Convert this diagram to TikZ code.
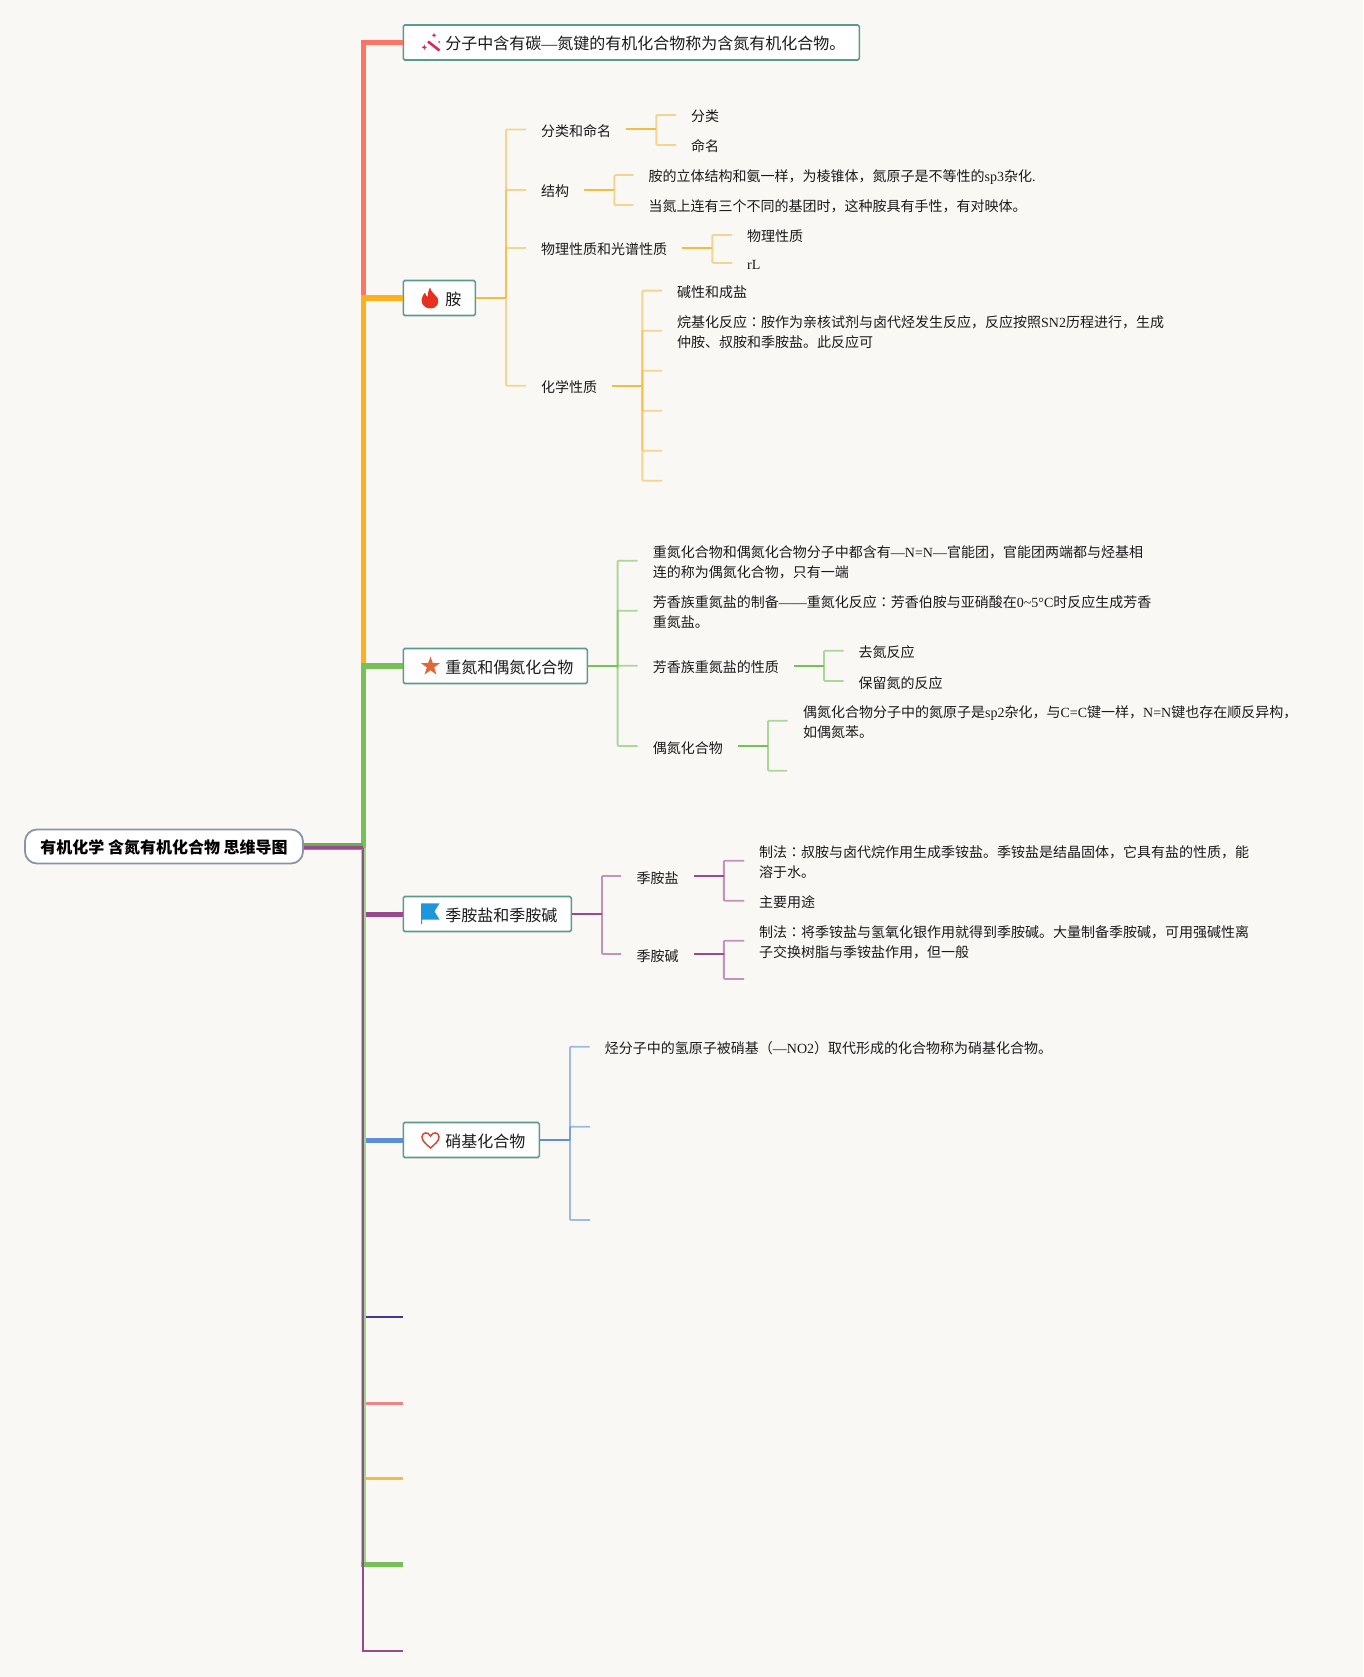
\documentclass[tikz,border=0pt]{standalone}
\usepackage{fontspec}
\setmainfont{Noto Sans CJK SC}
\newfontfamily\lat{Liberation Serif}
\newfontfamily\tcf{Noto Sans CJK TC}
\newcommand\tn[1]{{\lat #1}}
\newcommand\cln{{\tcf ：}}
\newcommand\fstl{\rule{0pt}{14.7pt}}
\definecolor{bgc}{HTML}{F9F8F5}
\definecolor{boxc}{HTML}{5B9A8F}
\definecolor{rootc}{HTML}{8B93AB}
\definecolor{redc}{HTML}{FF7464}
\definecolor{orac}{HTML}{FFB01F}
\definecolor{grec}{HTML}{76C05A}
\definecolor{purc}{HTML}{9A4A8A}
\definecolor{bluc}{HTML}{5C8FD6}
\definecolor{navc}{HTML}{3F3A8F}
\definecolor{salc}{HTML}{EC8585}
\definecolor{yelc}{HTML}{F2BD42}
\definecolor{lgre}{HTML}{A0D488}
\definecolor{mixc}{HTML}{86527F}
\definecolor{txtc}{HTML}{1A1A1A}
\definecolor{flamec}{HTML}{E8301E}
\definecolor{starc}{HTML}{E2683A}
\definecolor{flagc}{HTML}{1E96DC}
\definecolor{heartc}{HTML}{D4483A}
\definecolor{wandc}{HTML}{E0245E}
\tikzset{
  rootbox/.style={draw=rootc,line width=1.8pt,fill=white,rounded corners=12pt,minimum width=278pt,minimum height=34pt,inner sep=0pt,font=\fontsize{16}{20}\selectfont\bfseries,text=black,text height=15pt,text depth=0.8pt},
  mainbox/.style={draw=boxc,line width=1.6pt,fill=white,rounded corners=1.5pt,minimum height=35pt,inner ysep=0pt,inner xsep=14pt,anchor=west,font=\fontsize{16}{20}\selectfont,text=txtc,text height=15.4pt,text depth=0.8pt},
  leaf/.style={anchor=west,inner sep=0pt,align=left,font=\fontsize{14}{20}\selectfont,text=txtc,text height=14pt,text depth=0pt},
  leaftwo/.style={anchor=west,inner sep=0pt,align=left,font=\fontsize{14}{20}\selectfont,text=txtc},
  trunk/.style={line width=5.4pt,draw=#1},
  stub/.style={line width=2pt,draw=#1},
  kid/.style={line width=1.9pt,draw=#1,opacity=.58,rounded corners=1pt},
}
\begin{document}
\begin{tikzpicture}[x=1pt,y=-1pt]
\useasboundingbox (0,0) rectangle (1363,1677);
\fill[bgc] (0,0) rectangle (1363,1677);

% trunk connectors
\node[rootbox] (root) at (164,846.5) {有机化学 含氮有机化合物 思维导图};
\node[mainbox] (b0) at (402.5,42.5) {\hspace{28pt}分子中含有碳\tn{—}氮键的有机化合物称为含氮有机化合物。};
\node[mainbox] (b1) at (402.5,298) {\hspace{28pt}胺};
\node[mainbox] (b2) at (402.5,666) {\hspace{28pt}重氮和偶氮化合物};
\node[mainbox] (b3) at (402.5,914) {\hspace{28pt}季胺盐和季胺碱};
\node[mainbox] (b4) at (402.5,1140) {\hspace{28pt}硝基化合物};
\coordinate (j) at (363.2,847.5);
\coordinate (e5) at (402.5,1316.7);
\coordinate (e6) at (402.5,1403.3);
\coordinate (e7) at (402.5,1478.3);
\coordinate (e8) at (402.5,1564.5);
\coordinate (e9) at (402.5,1651.2);

\draw[trunk=lgre] (j) -- (j |- e8);
\draw[trunk=redc] (j) |- (b0.west);
\draw[trunk=orac] (j) |- (b1.west);
\draw[trunk=grec] (j) |- (b2.west);
\draw[trunk=grec] (j |- e8) ++(-2.7,0) -- (e8);
\draw[line width=2.5pt,draw=mixc] ([xshift=-.4pt]j) -- ([xshift=-.4pt]j |- e8);
\draw[line width=2.2pt,draw=purc] ([xshift=-.4pt]j |- e8) |- (e9);
\draw[line width=5pt,draw=purc] (b3.west) -- (366,914);
\draw[line width=5pt,draw=bluc] (b4.west) -- (366,1140);
\draw[line width=2.2pt,draw=navc] (e5) -- (366,1316.7);
\draw[line width=2.6pt,draw=salc] (e6) -- (366,1403.3);
\draw[line width=2.6pt,draw=yelc] (e7) -- (366,1478.3);
\draw[line width=7pt,draw=grec!90!black] (root.east) -- (root.east -| j);
\draw[line width=2.4pt,draw=purc] (root.east |- j) -- (j);

% --- 胺
\coordinate (h1) at (506,298);
\draw[stub=yelc] (b1.east) -- (h1);
\node[leaf] (a1) at (541,129.5) {分类和命名};
\node[leaf] (a2) at (541,190) {结构};
\node[leaf] (a3) at (541,248) {物理性质和光谱性质};
\node[leaf] (a4) at (541,385.7) {化学性质};
\foreach \c in {a1,a2,a3,a4} \draw[kid=yelc] (h1) |- ([xshift=-15pt]\c.west);
% 分类和命名
\node[leaf] (a11) at (691,115) {分类};
\node[leaf] (a12) at (691,145) {命名};
\coordinate (ha1) at ([xshift=45pt]a1.east);
\draw[stub=yelc] ([xshift=15pt]a1.east) -- (ha1);
\foreach \c in {a11,a12} \draw[kid=yelc] (ha1) |- ([xshift=-15pt]\c.west);
% 结构
\node[leaf] (a21) at (648.5,175) {胺的立体结构和氨一样，为棱锥体，氮原子是不等性的\tn{sp3}杂化\tn{.}};
\node[leaf] (a22) at (648.5,205) {当氮上连有三个不同的基团时，这种胺具有手性，有对映体。};
\coordinate (ha2) at ([xshift=45pt]a2.east);
\draw[stub=yelc] ([xshift=15pt]a2.east) -- (ha2);
\foreach \c in {a21,a22} \draw[kid=yelc] (ha2) |- ([xshift=-15pt]\c.west);
% 物理
\node[leaf] (a31) at (747,235) {物理性质};
\node[leaf] (a32) at (747,263) {\tn{rL}};
\coordinate (ha3) at ([xshift=45pt]a3.east);
\draw[stub=yelc] ([xshift=15pt]a3.east) -- (ha3);
\foreach \c in {a31,a32} \draw[kid=yelc] (ha3) |- ([xshift=-15pt]\c.west);
% 化学
\node[leaf] (a41) at (677,290.7) {碱性和成盐};
\node[leaftwo] (a42) at (677,330.7) {\fstl 烷基化反应\cln 胺作为亲核试剂与卤代烃发生反应，反应按照\tn{SN2}历程进行，生成\\仲胺、叔胺和季胺盐。此反应可};
\coordinate (ha4) at ([xshift=45pt]a4.east);
\coordinate (a43) at (662,370.7);
\coordinate (a44) at (662,410.7);
\coordinate (a45) at (662,450.7);
\coordinate (a46) at (662,480.7);
\draw[stub=yelc] ([xshift=15pt]a4.east) -- (ha4);
\foreach \c in {a41,a42} \draw[kid=yelc] (ha4) |- ([xshift=-15pt]\c.west);
\foreach \c in {a43,a44,a45,a46} \draw[kid=yelc] (ha4) |- (\c);

% --- 重氮
\coordinate (h2) at (617.6,666);
\draw[stub=grec] (b2.east) -- (h2);
\node[leaftwo] (c1) at (652.7,560.7) {\fstl 重氮化合物和偶氮化合物分子中都含有\tn{—N=N—}官能团，官能团两端都与烃基相\\连的称为偶氮化合物，只有一端};
\node[leaftwo] (c2) at (652.7,610.7) {\fstl 芳香族重氮盐的制备\tn{——}重氮化反应\cln 芳香伯胺与亚硝酸在\tn{0\textasciitilde5°C}时反应生成芳香\\重氮盐。};
\node[leaf] (c3) at (652.7,665.7) {芳香族重氮盐的性质};
\node[leaf] (c4) at (652.7,746) {偶氮化合物};
\foreach \c in {c1,c2,c3,c4} \draw[kid=grec] (h2) |- ([xshift=-15pt]\c.west);
\node[leaf] (c31) at (858.5,650.7) {去氮反应};
\node[leaf] (c32) at (858.5,681) {保留氮的反应};
\coordinate (hc3) at ([xshift=45pt]c3.east);
\draw[stub=grec] ([xshift=15pt]c3.east) -- (hc3);
\foreach \c in {c31,c32} \draw[kid=grec] (hc3) |- ([xshift=-15pt]\c.west);
\node[leaftwo] (c41) at (803,720.7) {\fstl 偶氮化合物分子中的氮原子是\tn{sp2}杂化，与\tn{C=C}键一样，\tn{N=N}键也存在顺反异构，\\如偶氮苯。};
\coordinate (c42) at (787,770.7);
\coordinate (hc4) at ([xshift=45pt]c4.east);
\draw[stub=grec] ([xshift=15pt]c4.east) -- (hc4);
\draw[kid=grec] (hc4) |- ([xshift=-15.5pt]c41.west);
\draw[kid=grec] (hc4) |- (c42);

% --- 季胺
\coordinate (h3) at (602,914);
\draw[stub=purc] (b3.east) -- (h3);
\node[leaf] (d1) at (636.5,876) {季胺盐};
\node[leaf] (d2) at (636.5,954) {季胺碱};
\foreach \c in {d1,d2} \draw[kid=purc] (h3) |- ([xshift=-15.5pt]\c.west);
\node[leaftwo] (d11) at (759,860.7) {\fstl 制法\cln 叔胺与卤代烷作用生成季铵盐。季铵盐是结晶固体，它具有盐的性质，能\\溶于水。};
\node[leaf] (d12) at (759,900.7) {主要用途};
\coordinate (hd1) at ([xshift=45pt]d1.east);
\draw[stub=purc] ([xshift=15pt]d1.east) -- (hd1);
\foreach \c in {d11,d12} \draw[kid=purc] (hd1) |- ([xshift=-15pt]\c.west);
\node[leaftwo] (d21) at (759,940.7) {\fstl 制法\cln 将季铵盐与氢氧化银作用就得到季胺碱。大量制备季胺碱，可用强碱性离\\子交换树脂与季铵盐作用，但一般};
\coordinate (d22) at (744,979);
\coordinate (hd2) at ([xshift=45pt]d2.east);
\draw[stub=purc] ([xshift=15pt]d2.east) -- (hd2);
\draw[kid=purc] (hd2) |- ([xshift=-15pt]d21.west);
\draw[kid=purc] (hd2) |- (d22);

% --- 硝基
\coordinate (h4) at (570,1140);
\draw[stub=bluc] (b4.east) -- (h4);
\node[leaf] (f1) at (604.7,1046.7) {烃分子中的氢原子被硝基（\tn{—NO2}）取代形成的化合物称为硝基化合物。};
\coordinate (f2) at (590,1126.7);
\coordinate (f3) at (590,1220);
\draw[kid=bluc] (h4) |- ([xshift=-15pt]f1.west);
\draw[kid=bluc] (h4) |- (f2);
\draw[kid=bluc] (h4) |- (f3);

% --- icons
\fill[flamec] (430,287.5) .. controls (431,293) and (436.5,295) .. (438,299)
  .. controls (439.5,304) and (435.5,308.5) .. (430.5,308.5)
  .. controls (425,308.5) and (421.5,304.5) .. (421.5,300)
  .. controls (421.5,297) and (423.5,294.5) .. (425,292.5)
  .. controls (425.5,295) and (426.5,296.5) .. (427.5,297)
  .. controls (428,294) and (428,291) .. (430,287.5) -- cycle;
\fill[starc] (430.5,656.5) -- (432.8,663) -- (440,663.1) -- (434.2,667.4) -- (436.4,674.6) -- (430.5,670.3) -- (424.6,674.6) -- (426.8,667.4) -- (421,663.1) -- (428.2,663) -- cycle;
\fill[flagc] (421,903.3) -- (439.5,903.3) -- (434.5,911.5) -- (439.5,919.5) -- (422.2,919.5) -- (422.2,924) -- (421,924) -- cycle;
\draw[line width=1.5pt,draw=heartc] (430.5,1148) .. controls (426,1144) and (422,1141) .. (422,1137)
  .. controls (422,1132.5) and (428,1131) .. (430.5,1136)
  .. controls (433,1131) and (439,1132.5) .. (439,1137)
  .. controls (439,1141) and (435,1144) .. (430.5,1148) -- cycle;
\draw[line width=2.6pt,draw=wandc] (428,41.5) -- (439.5,50.5);
\fill[wandc] (434,32.8) -- (434.7,34.6) -- (436.5,35.3) -- (434.7,36) -- (434,37.8) -- (433.3,36) -- (431.5,35.3) -- (433.3,34.6) -- cycle;
\fill[wandc] (424.3,44.5) -- (425.1,46.5) -- (427.1,47.3) -- (425.1,48.1) -- (424.3,50.1) -- (423.5,48.1) -- (421.5,47.3) -- (423.5,46.5) -- cycle;
\fill[wandc] (439,42) circle (1pt);
\end{tikzpicture}
\end{document}
